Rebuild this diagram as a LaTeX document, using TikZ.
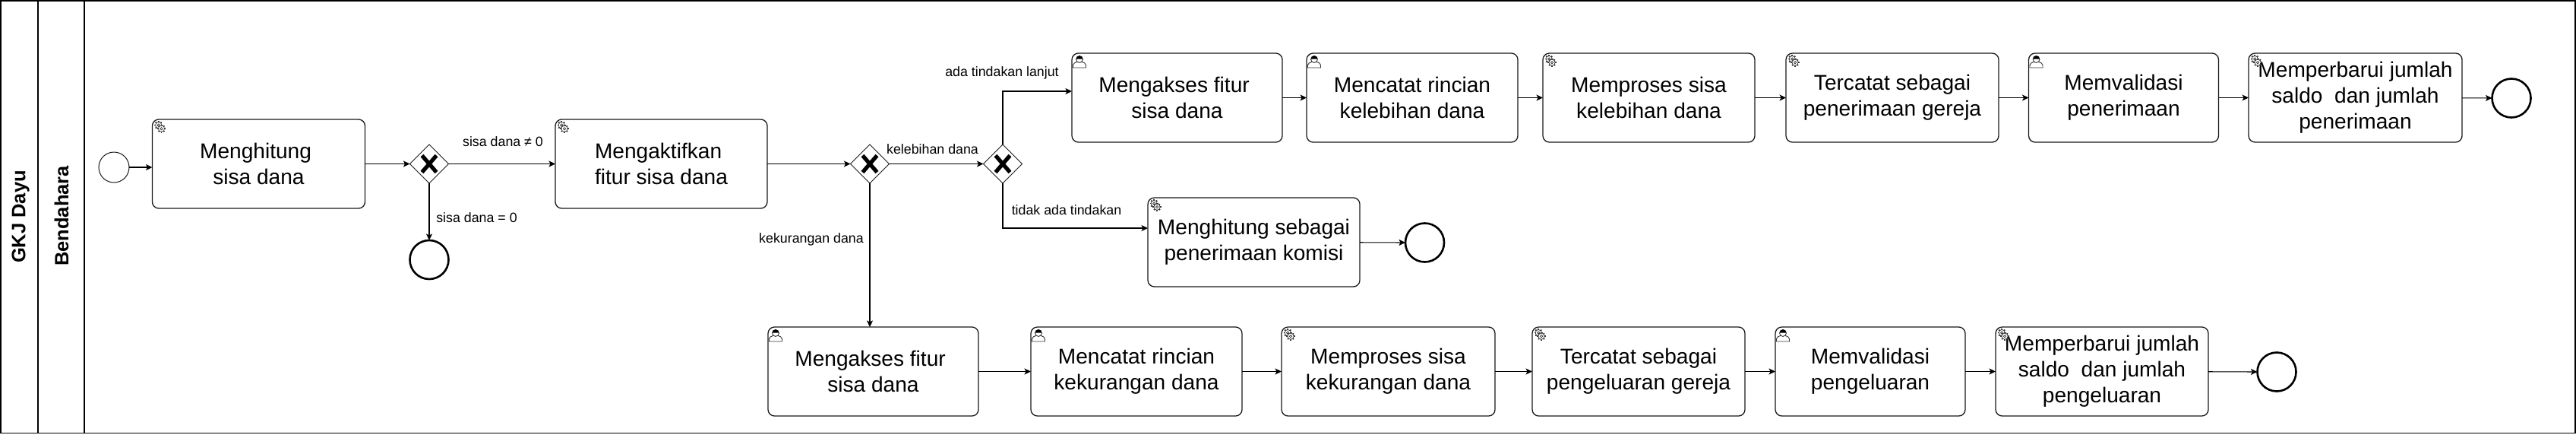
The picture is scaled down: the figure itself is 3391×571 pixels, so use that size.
\documentclass[tikz,border=0pt]{standalone}
\usepackage{fontspec}
\setmainfont{Liberation Sans}
\usetikzlibrary{arrows.meta,shapes.geometric}
\colorlet{lineColor}{black!90}
\colorlet{iconColor}{black!80}
\newcommand{\tailSpace}{\kern.278em}
\tikzstyle{laneLine}=[draw=black,line width=1.3pt]
\tikzstyle{laneTitle}=[rotate=90,font=\fontsize{25.5}{30}\selectfont\bfseries,inner sep=0pt]
\tikzstyle{taskBox}=[rectangle,draw=lineColor,fill=white,line width=1.3pt,rounded corners=8.5pt,
  minimum height=117pt,inner sep=0pt,outer sep=0pt,align=center,font=\fontsize{28.1}{34}\selectfont]
\tikzstyle{gateBox}=[diamond,draw=lineColor,fill=white,line width=1pt,minimum width=51pt,
  minimum height=51pt,inner sep=0pt,outer sep=0pt]
\tikzstyle{startEvent}=[circle,draw=lineColor,fill=white,line width=1pt,minimum size=40pt,inner sep=0pt,outer sep=0pt]
\tikzstyle{endEvent}=[circle,draw=black,fill=white,line width=2.6pt,minimum size=51pt,inner sep=0pt,outer sep=0pt]
\tikzstyle{flowLabel}=[font=\fontsize{17.8}{21}\selectfont,inner sep=0pt]
\tikzstyle{flowLine}=[draw=black,line width=1.15pt,-{Stealth[length=8.5pt,width=8pt,inset=2pt]}]
\tikzset{
  crossMark/.pic={
    \draw[black,line width=5.2pt] (-9.5,-11) -- (9.5,11);
    \draw[black,line width=5.2pt] (-9.5,11) -- (9.5,-11);
  },
  gearShape/.pic={
    \foreach \a in {0,45,...,315} {
      \draw[iconColor,line width=1.7pt] (\a:3.8) -- (\a:5.6);
    }
    \draw[iconColor,fill=white,line width=.7pt] (0,0) circle (4.1);
    \draw[iconColor,line width=.7pt] (0,0) circle (1.7);
  },
  gearIcon/.pic={
    \pic at (8.2,7.6) {gearShape};
    \pic at (12,12.2) {gearShape};
  },
  personIcon/.pic={
    \draw[iconColor,fill=white,line width=.9pt] (1.5,19) -- (1.5,15.5)
      .. controls (1.5,13) and (4.5,12.5) .. (6.5,11.5) -- (13.5,11.5)
      .. controls (15.5,12.5) and (18.5,13) .. (18.5,15.5) -- (18.5,19) -- cycle;
    \draw[iconColor,fill=white,line width=.9pt] (10,8) circle (4.4);
    \fill[black] (5.6,7.6) arc[start angle=180,end angle=360,radius=4.4] -- cycle;
  }
}
\begin{document}
\begin{tikzpicture}[x=1pt,y=-1pt]
        \useasboundingbox (0,0) rectangle (3391,571);
        % lanes
        \draw[laneLine] (1,1) rectangle (3390,569.5);
        \draw[laneLine] (50,1) -- (50,569.5);
        \draw[laneLine] (111,1) -- (111,569.5);
        \node[laneTitle] (poolTitle) at (27,285) {GKJ Dayu};
        \node[laneTitle] (laneTitle) at (81,284) {Bendahara};
        % first row
        \node[startEvent] (startA) at (150,220) {};
        \node[taskBox,minimum width=280pt] (taskHitung) at (340.5,215.5) {Menghitung\tailSpace\\sisa dana};
        \node[gateBox] (gateA) at (565,215.5) {};
        \node[endEvent] (endA) at (565,341.5) {};
        \node[taskBox,minimum width=279pt] (taskAktif) at (870.5,215.5) {Mengaktifkan\tailSpace\\fitur sisa dana};
        \node[gateBox] (gateB) at (1145,215.5) {};
        \node[gateBox] (gateC) at (1320,215.5) {};
        \node[taskBox,minimum width=279pt] (taskKomisi) at (1650.5,318.5) {Menghitung sebagai\\penerimaan komisi};
        \node[endEvent] (endB) at (1875.5,319) {};
        % kelebihan row
        \node[taskBox,minimum width=277pt] (lebihAkses) at (1549.5,128.5) {Mengakses fitur\tailSpace\\sisa dana};
        \node[taskBox,minimum width=278pt] (lebihCatat) at (1859,128.5) {Mencatat rincian\\kelebihan dana};
        \node[taskBox,minimum width=279pt] (lebihProses) at (2170.5,128.5) {Memproses sisa\\kelebihan dana};
        \node[taskBox,minimum width=280pt] (lebihTerima) at (2491,128.5) {Tercatat sebagai\\penerimaan gereja};
        \node[taskBox,minimum width=250pt] (lebihValid) at (2795.5,128.5) {Memvalidasi\\penerimaan};
        \node[taskBox,minimum width=281pt] (lebihSaldo) at (3100.5,128.5) {Memperbarui jumlah\\saldo\ \ dan jumlah\\penerimaan};
        \node[endEvent] (endC) at (3306,129) {};
        % kekurangan row
        \node[taskBox,minimum width=277pt] (kurangAkses) at (1149.5,488.5) {Mengakses fitur\tailSpace\\sisa dana};
        \node[taskBox,minimum width=278pt] (kurangCatat) at (1496,488.5) {Mencatat rincian\\kekurangan dana};
        \node[taskBox,minimum width=281pt] (kurangProses) at (1827.5,488.5) {Memproses sisa\\kekurangan dana};
        \node[taskBox,minimum width=280pt] (kurangKeluar) at (2157,488.5) {Tercatat sebagai\\pengeluaran gereja};
        \node[taskBox,minimum width=250pt] (kurangValid) at (2462,488.5) {Memvalidasi\\pengeluaran};
        \node[taskBox,minimum width=280pt] (kurangSaldo) at (2767,488.5) {Memperbarui jumlah\\saldo\ \ dan jumlah\\pengeluaran};
        \node[endEvent] (endD) at (2997,489) {};
        % icons
        \foreach \t in {taskHitung,taskAktif,taskKomisi,lebihProses,lebihTerima,lebihSaldo,kurangProses,kurangKeluar,kurangSaldo} {
                \pic at (\t.north west) {gearIcon};
        }
        \foreach \t in {lebihAkses,lebihCatat,lebihValid,kurangAkses,kurangCatat,kurangValid} {
                \pic at (\t.north west) {personIcon};
        }
        \foreach \g in {gateA,gateB,gateC} {
                \pic at (\g) {crossMark};
        }
        % flows
        \draw[flowLine] (startA) -- (startA -| taskHitung.west);
        \draw[flowLine] (taskHitung) -- (gateA);
        \draw[flowLine] (gateA) -- (taskAktif);
        \draw[flowLine] (gateA) -- (endA);
        \draw[flowLine] (taskAktif) -- (gateB);
        \draw[flowLine] (gateB) -- (gateC);
        \draw[flowLine] (gateC.north) |- ([yshift=8.5pt]lebihAkses.west);
        \draw[flowLine] (gateC.south) |- ([yshift=18.5pt]taskKomisi.west);
        \draw[flowLine] (taskKomisi) -- (endB);
        \draw[flowLine] (gateB.south) -- (gateB.south |- kurangAkses.north);
        \foreach \a/\b in {lebihAkses/lebihCatat,lebihCatat/lebihProses,lebihProses/lebihTerima,lebihTerima/lebihValid,lebihValid/lebihSaldo,lebihSaldo/endC,kurangAkses/kurangCatat,kurangCatat/kurangProses,kurangProses/kurangKeluar,kurangKeluar/kurangValid,kurangValid/kurangSaldo,kurangSaldo/endD} {
                \draw[flowLine] (\a) -- (\b);
        }
        % labels
        \node[flowLabel] (labelLain) at (662,186) {sisa dana ≠ 0};
        \node[flowLabel] (labelNol) at (627.5,286) {sisa dana = 0};
        \node[flowLabel] (labelLebih) at (1227.5,196) {kelebihan dana};
        \node[flowLabel] (labelKurang) at (1068,315) {kekurangan dana};
        \node[flowLabel] (labelLanjut) at (1319,96) {ada tindakan lanjut};
        \node[flowLabel] (labelTidak) at (1404,276) {tidak ada tindakan};
\end{tikzpicture}
\end{document}
